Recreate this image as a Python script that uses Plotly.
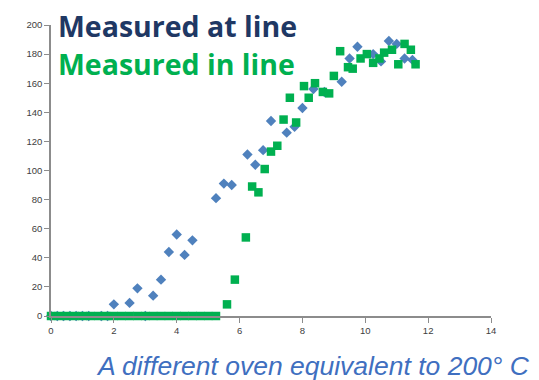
import plotly.graph_objects as go

# Measured at line (blue diamonds)
at_line_x = [0, 0.2, 0.4, 0.6, 0.8, 1.0, 1.2, 1.6, 1.8, 3.0,
             2.0, 2.5, 2.75, 3.25, 3.5, 3.75, 4.0, 4.25, 4.5, 5.25, 5.5, 5.75,
             6.25, 6.5, 6.75, 7.0, 7.5, 7.75, 8.0, 8.35, 8.7, 9.25, 9.5, 9.75,
             10.25, 10.5, 10.75, 11.0, 11.25, 11.5]
at_line_y = [0, 0, 0, 0, 0, 0, 0, 0, 0, 0,
             8, 9, 19, 14, 25, 44, 56, 42, 52, 81, 91, 90,
             111, 104, 114, 134, 126, 130, 143, 156, 154, 161, 177, 185,
             180, 175, 189, 187, 177, 176]

# Measured in line (green squares)
in_line_x = [0, 0.25, 0.5, 0.75, 1.0, 1.25, 1.5, 1.75, 2.0, 2.25, 2.5, 2.75,
             3.0, 3.25, 3.5, 3.75, 4.0, 4.25, 4.5, 4.75, 5.0, 5.25,
             5.6, 5.85, 6.2, 6.4, 6.6, 6.8, 7.0, 7.2, 7.4, 7.6, 7.8, 8.05,
             8.2, 8.4, 8.65, 8.85, 9.0, 9.2, 9.45, 9.6, 9.85, 10.05, 10.25,
             10.45, 10.6, 10.85, 11.05, 11.25, 11.45, 11.6]
in_line_y = [0, 0, 0, 0, 0, 0, 0, 0, 0, 0, 0, 0,
             0, 0, 0, 0, 0, 0, 0, 0, 0, 0,
             8, 25, 54, 89, 85, 101, 113, 117, 135, 150, 133, 158,
             150, 160, 154, 153, 165, 182, 171, 170, 177, 180, 174,
             177, 181, 183, 173, 187, 183, 173]

x_ticks = [0, 2, 4, 6, 8, 10, 12, 14]
y_ticks = [0, 20, 40, 60, 80, 100, 120, 140, 160, 180, 200]

fig = go.Figure()
fig.add_trace(go.Scatter(x=at_line_x, y=at_line_y, mode="markers", name="Measured at line",
                         marker=dict(symbol="diamond", size=8, color="#4F81BD"),
                         cliponaxis=False))
fig.add_trace(go.Scatter(x=in_line_x, y=in_line_y, mode="markers", name="Measured in line",
                         marker=dict(symbol="square", size=8.5, color="#00B050"),
                         cliponaxis=False))

axis_common = dict(showgrid=False, zeroline=False, showline=True, linecolor="#8C8C8C",
                   linewidth=1.5, ticks="outside", ticklen=5, tickcolor="#8C8C8C",
                   tickfont=dict(family="Liberation Sans, Arial", size=9.5, color="#404040"))

fig.update_xaxes(range=[0, 14], tickvals=x_ticks, **axis_common)
fig.update_yaxes(range=[0, 200], tickvals=y_ticks, **axis_common)

fig.add_annotation(text="<b>Measured at line</b>", xref="paper", yref="paper",
                   x=0.011, y=0.997, xanchor="left", yanchor="middle", showarrow=False,
                   font=dict(family="Open Sans", size=28.5, color="#1F3864"))
fig.add_annotation(text="<b>Measured in line</b>", xref="paper", yref="paper",
                   x=0.011, y=0.867, xanchor="left", yanchor="middle", showarrow=False,
                   font=dict(family="Open Sans", size=28.5, color="#00B050"))
fig.add_annotation(text="<i>A different oven equivalent to 200° C</i>", xref="paper", yref="paper",
                   x=0.595, y=-0.172, xanchor="center", yanchor="middle", showarrow=False,
                   font=dict(family="Liberation Sans, Arial", size=26.5, color="#3F6FC0"))

fig.update_layout(width=539, height=380, margin=dict(l=43, r=56, t=11, b=72),
                  plot_bgcolor="white", paper_bgcolor="white", showlegend=False)

fig.write_html("out.html")
